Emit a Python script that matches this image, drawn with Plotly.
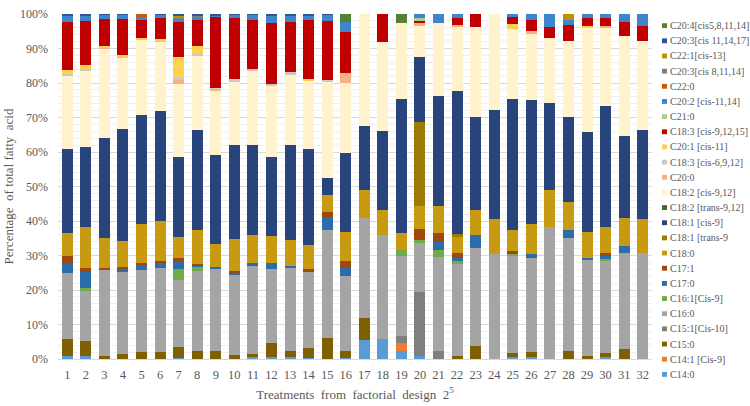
import plotly.graph_objects as go

treatments = [str(i) for i in range(1, 33)]

series_names = [
    "C14:0", "C14:1 [Cis-9]", "C15:0", "C15:1[Cis-10]", "C16:0", "C16:1[Cis-9]",
    "C17:0", "C17:1", "C18:0", "C18:1 [trans-9", "C18:1 [cis-9]", "C18:2 [trans-9,12]",
    "C18:2 [cis-9,12]", "C20:0", "C18:3 [cis-6,9,12]", "C20:1 [cis-11]",
    "C18:3 [cis-9,12,15]", "C21:0", "C20:2 [cis-11,14]", "C22:0",
    "C20:3[cis 8,11,14]", "C22:1[cis-13]", "C20:3[cis 11,14,17]", "C20:4[cis5,8,11,14]",
]

def sparse(d):
    return [d.get(i, 0) for i in range(1, 33)]

c14_0 = [0.9, 0.9, 0, 0, 0, 0, 0.3, 0, 0, 0, 0.6, 0.6, 0.5, 0.4, 0, 0.4,
         5.4, 5.7, 2.4, 0.9, 0, 0, 0, 0, 0.6, 0.5, 0, 0, 0, 0.6, 0, 0]
c14_1 = sparse({19: 2.3})
c15_0 = [5.0, 4.3, 0.8, 1.5, 1.9, 1.9, 3.1, 2.4, 2.2, 1.2, 0.9, 4.1, 1.7, 2.7, 6.2, 2.0,
         6.4, 0, 0, 0, 0, 0.9, 3.7, 0, 1.1, 1.4, 0, 2.4, 0.9, 1.1, 2.8, 0]
c15_1 = sparse({19: 2.0, 20: 18.4, 21: 2.4})
c16_0 = [19.0, 14.5, 25.1, 23.6, 24.0, 24.6, 19.4, 23.0, 23.9, 23.4, 25.5, 21.4, 24.1, 22.0, 31.3, 21.6,
         29.2, 30.2, 23.3, 14.3, 27.2, 26.6, 28.4, 30.3, 28.3, 27.4, 38.4, 32.6, 27.8, 26.7, 27.8, 30.7]
c16_1 = sparse({2: 0.9, 7: 3.4, 8: 1.3, 19: 1.5, 20: 0.9, 21: 1.9, 22: 0.9, 25: 0.4, 30: 0.7})
c17_0 = [3.0, 4.5, 0.4, 1.2, 1.3, 1.2, 2.1, 0.2, 0.7, 0.5, 0.9, 1.6, 0.7, 0, 3.7, 2.5,
         0, 0, 0, 0, 2.5, 0.9, 3.8, 0, 0, 1.2, 0, 2.5, 0.6, 0.9, 2.2, 0]
c17_1 = [1.9, 1.4, 0.2, 0.5, 0.6, 0.6, 0.9, 0.6, 0, 0.5, 0, 0, 0, 1.1, 1.3, 1.9,
         0, 0, 0, 3.3, 2.4, 1.4, 0, 0, 0.8, 0, 0, 0, 0, 0.6, 0, 0]
c18_0 = [6.8, 11.9, 8.5, 7.4, 11.4, 11.6, 6.2, 10.0, 6.6, 9.1, 8.0, 7.9, 7.5, 6.9, 5.1, 8.4,
         8.0, 7.2, 4.9, 6.5, 7.9, 4.7, 7.2, 10.3, 6.3, 8.5, 10.6, 8.0, 7.5, 7.8, 8.1, 9.9]
c18_1_trans = sparse({20: 24.4, 22: 0.8})
c18_1_cis = [24.3, 23.1, 29.2, 32.5, 31.4, 31.9, 23.2, 28.9, 25.6, 27.4, 26.2, 23.0, 27.4, 27.7, 4.9, 22.8,
             18.5, 23.1, 39.0, 18.7, 31.9, 41.6, 27.0, 31.6, 38.0, 36.0, 25.3, 24.6, 29.1, 35.0, 23.8, 25.9]
c18_2_trans = sparse({})
c18_2_cis = [21.1, 22.0, 25.9, 20.7, 22.0, 20.2, 21.1, 21.5, 18.8, 18.3, 21.3, 20.4, 20.4, 19.8, 27.7, 20.3,
             32.5, 25.6, 21.9, 9.4, 21.1, 18.4, 26.1, 27.8, 20.1, 19.3, 18.8, 22.0, 30.3, 22.8, 29.0, 25.6]
c20_0 = sparse({3: 0.3, 7: 1.3, 9: 0.4, 16: 3.1, 20: 0.5, 22: 0.6, 26: 0.9, 30: 0.3})
c18_3_n6 = sparse({1: 0.6, 2: 0.5, 4: 0.3, 5: 0.3, 6: 0.4, 7: 0.4, 8: 0.5, 9: 0.3, 10: 0.6,
                   11: 0.8, 12: 0.7, 13: 0.9, 15: 0.7})
c20_1 = sparse({1: 1.3, 2: 1.1, 3: 0.3, 4: 0.4, 5: 0.2, 6: 0.3, 7: 6.0, 8: 2.3, 10: 0.3,
                14: 0.7, 25: 1.5, 29: 0.3})
c18_3_n3 = [13.9, 12.9, 7.8, 10.5, 5.1, 6.2, 10.4, 7.7, 20.7, 17.4, 14.0, 17.8, 14.6, 16.9, 17.1, 11.9,
            0, 8.2, 0, 0.7, 0, 1.9, 3.8, 0, 2.1, 3.2, 3.1, 4.7, 2.2, 2.2, 4.1, 4.4]
c21_0 = sparse({20: 0.7})
c20_2 = [1.5, 1.7, 1.4, 1.3, 0.9, 1.0, 0.8, 1.0, 0.5, 1.2, 1.7, 2.2, 1.9, 1.5, 1.9, 2.9,
         0, 0, 0, 1.3, 2.7, 1.3, 0, 0, 0.8, 1.6, 3.8, 1.4, 1.3, 1.3, 2.2, 3.5]
c22_0 = sparse({5: 0.9})
c20_3_n6 = sparse({7: 0.5, 8: 0.3})
c22_1 = sparse({7: 0.5, 28: 1.8})
c20_3_n3 = sparse({1: 0.7, 2: 0.3, 3: 0.1, 4: 0.1, 6: 0.1, 7: 0.4, 8: 0.3, 9: 0.3, 10: 0.1,
                   11: 0.1, 12: 0.3, 13: 0.3, 14: 0.3, 15: 0.1})
c20_4 = sparse({16: 2.2, 19: 2.7})

series_values = [c14_0, c14_1, c15_0, c15_1, c16_0, c16_1, c17_0, c17_1, c18_0, c18_1_trans,
                 c18_1_cis, c18_2_trans, c18_2_cis, c20_0, c18_3_n6, c20_1, c18_3_n3, c21_0,
                 c20_2, c22_0, c20_3_n6, c22_1, c20_3_n3, c20_4]

colors = ["#5B9BD5", "#ED7D31", "#7F6000", "#7F7F7F", "#A5A5A5", "#70AD47",
          "#2B6CAB", "#9E480E", "#C79A12", "#9C7A06", "#27457C", "#43682B",
          "#FFF2CC", "#F4B183", "#C9C9C9", "#FFD24D", "#C00000", "#A9D18E",
          "#3E86CC", "#C55A11", "#7F7F7F", "#BF9000", "#2F5597", "#548235"]

FONT = "Liberation Serif"
TXT = "#595959"

fig = go.Figure()
for name, vals, col in zip(series_names, series_values, colors):
    fig.add_trace(go.Bar(x=treatments, y=vals, name=name, marker_color=col,
                         marker_line_width=0, showlegend=False))

# plot area in pixels
L, R, T, B = 58, 652, 7, 362
W, H = 750, 406

def px_x(px):
    return (px - L) / (R - L)

def px_y(py):
    return (B - py) / (B - T)

# custom legend (Plotly's native legend rows are too tall for 24 entries)
shapes = []
annotations = []
legend_order = list(range(len(series_names)))[::-1]
for i, k in enumerate(legend_order):
    yc = 19 + i * 15.6
    shapes.append(dict(type="rect", xref="paper", yref="paper",
                       x0=px_x(662), x1=px_x(667), y0=px_y(yc + 2.5), y1=px_y(yc - 2.5),
                       fillcolor=colors[k], line_width=0))
    annotations.append(dict(xref="paper", yref="paper", x=px_x(668), y=px_y(yc),
                            xanchor="left", yanchor="middle", showarrow=False,
                            text=series_names[k], font=dict(family=FONT, size=10, color=TXT)))

fig.update_layout(
    width=W, height=H,
    margin=dict(l=L, r=W - R, t=T, b=H - B),
    barmode="stack", barnorm="percent", bargap=0.41,
    plot_bgcolor="white", paper_bgcolor="white",
    font=dict(family=FONT, color=TXT, size=12),
    shapes=shapes, annotations=annotations,
    showlegend=False,
)
fig.update_xaxes(
    type="category", showgrid=False, showline=True, linecolor="#D9D9D9",
    ticks="", ticklabelstandoff=4, tickfont=dict(family=FONT, size=12.5, color=TXT),
    title=dict(text="Treatments  from  factorial  design  2<sup>5</sup>",
               font=dict(family=FONT, size=13, color=TXT), standoff=8),
)
fig.update_yaxes(
    range=[0, 100], dtick=10, ticksuffix="%", showgrid=True, gridcolor="#D9D9D9",
    zeroline=False, ticklabelstandoff=9, tickfont=dict(family=FONT, size=12, color=TXT),
    minor=dict(dtick=2, showgrid=True, gridcolor="#F0F0F0"),
    title=dict(text="Percentage  of total fatty  acid", font=dict(family=FONT, size=13, color=TXT), standoff=3),
)

fig.write_html("out.html", config={"displayModeBar": False},
               post_script="document.body.style.margin='0px';document.body.style.overflow='hidden';")
